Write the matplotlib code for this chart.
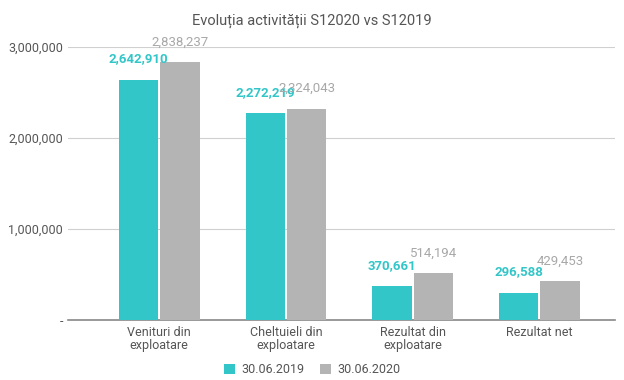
import numpy as np
import matplotlib.pyplot as plt

# date: indicatori S1 2019 / S1 2020
categorii = ['Venituri din\nexploatare', 'Cheltuieli din\nexploatare', 'Rezultat din\nexploatare', 'Rezultat net']
s2019 = [2642910, 2272219, 370661, 296588]
s2020 = [2838237, 2324043, 514194, 429453]
serii = ['30.06.2019', '30.06.2020']
yticks = [0, 1000000, 2000000, 3000000]

plt.rcParams['font.family'] = ['Roboto', 'DejaVu Sans']

c_teal = '#33c6c8'
c_gri = '#b4b4b4'

fig = plt.figure(figsize=(6.24, 3.80), dpi=100)
ax = fig.add_axes([0.109, 0.158, 0.877, 0.718])

x = np.arange(len(categorii))
w = 0.31
b1 = ax.bar(x - w / 2 - 0.008, s2019, w, color=c_teal, label=serii[0], zorder=3)
b2 = ax.bar(x + w / 2 + 0.008, s2020, w, color=c_gri, label=serii[1], zorder=3)

# etichete valori
for r, v in zip(b1, s2019):
    ax.text(r.get_x() + r.get_width() / 2, v + 230000, f'{v:,}', ha='center', va='center',
            fontsize=9.5, fontweight='bold', color=c_teal, zorder=4)
for r, v in zip(b2, s2020):
    ax.text(r.get_x() + r.get_width() / 2, v + 220000, f'{v:,}', ha='center', va='center',
            fontsize=9.5, color='#a8a8a8', zorder=4)

ax.set_xlim(-0.72, 3.6)
ax.set_ylim(0, 3000000)
ax.set_yticks(yticks)
ax.set_yticklabels(['-' if t == 0 else f'{t:,}' for t in yticks])
ax.set_xticks(x)
ax.set_xticklabels(categorii, linespacing=1.0)
ax.tick_params(axis='both', length=0, labelsize=9, labelcolor='#555555')
ax.tick_params(axis='x', pad=4)
ax.grid(axis='y', color='#d0d0d0', linewidth=0.8, zorder=0)
for s in ['top', 'right', 'left']:
    ax.spines[s].set_visible(False)
ax.spines['bottom'].set_color('#888888')
ax.spines['bottom'].set_linewidth(1.2)

fig.suptitle('Evoluția activității S12020 vs S12019', y=0.965, fontsize=10.5, color='#555555')
fig.legend(handles=[b1, b2], labels=serii, loc='lower center', ncol=2, frameon=False,
           fontsize=9, labelcolor='#555555', handlelength=0.9, handleheight=0.9,
           bbox_to_anchor=(0.5, -0.02), columnspacing=1.2, handletextpad=0.5)

fig.savefig('out.png', dpi=100)
